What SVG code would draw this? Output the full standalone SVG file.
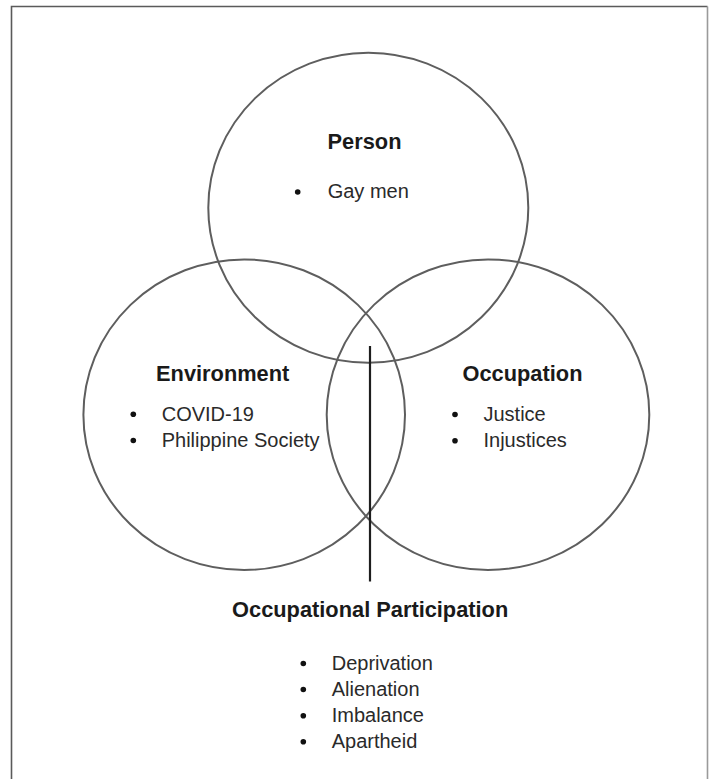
<svg xmlns="http://www.w3.org/2000/svg" width="709" height="779" viewBox="0 0 709 779">
  <style>
    .frame { fill: none; stroke: #5a5a5a; stroke-width: 1.6; }
    .frame-r { fill: none; stroke: #9a9a9a; stroke-width: 1.6; }
    .ring { fill: none; stroke: #5e5e5e; stroke-width: 2; }
    .divider { stroke: #1e1e1e; stroke-width: 2.2; }
    .title { font-family: "Liberation Sans", Arial, sans-serif; font-weight: bold; font-size: 21.8px; fill: #1a1a1a; text-anchor: middle; }
    .item { font-family: "Liberation Sans", Arial, sans-serif; font-size: 20px; fill: #2a2a2a; }
    .dot { fill: #111; }
  </style>

  <rect width="709" height="779" fill="#ffffff"/>

  <!-- outer frame, open at the bottom -->
  <polyline class="frame" points="11.5,779 11.5,6.5 707.5,6.5"/>
  <line class="frame-r" x1="707.5" y1="6.5" x2="707.5" y2="779"/>

  <g id="person">
    <ellipse class="ring" cx="368.3" cy="207.7" rx="160" ry="155"/>
    <text class="title" x="364.5" y="149.3">Person</text>
    <circle class="dot" cx="297.7" cy="192" r="2.8"/>
    <text class="item" x="327.7" y="198">Gay men</text>
  </g>

  <g id="environment">
    <ellipse class="ring" cx="244.2" cy="414.7" rx="160.8" ry="155.3"/>
    <text class="title" x="222.7" y="380.7">Environment</text>
    <circle class="dot" cx="133.3" cy="414.3" r="2.8"/>
    <text class="item" x="161.7" y="420.7">COVID-19</text>
    <circle class="dot" cx="133.3" cy="440.5" r="2.8"/>
    <text class="item" x="161.7" y="446.7">Philippine Society</text>
  </g>

  <g id="occupation">
    <ellipse class="ring" cx="488" cy="414.7" rx="161.3" ry="155.3"/>
    <text class="title" x="522.5" y="380.7">Occupation</text>
    <circle class="dot" cx="455" cy="414.5" r="2.8"/>
    <text class="item" x="483.5" y="420.7">Justice</text>
    <circle class="dot" cx="455" cy="440.7" r="2.8"/>
    <text class="item" x="483.5" y="446.7">Injustices</text>
  </g>

  <g id="connectors">
    <line class="divider" x1="370" y1="346" x2="370" y2="581.5"/>
  </g>

  <g id="occupational-participation">
    <text class="title" x="370.2" y="616.7">Occupational Participation</text>
    <circle class="dot" cx="303.3" cy="663.5" r="2.8"/>
    <text class="item" x="331.7" y="670">Deprivation</text>
    <circle class="dot" cx="303.3" cy="689.5" r="2.8"/>
    <text class="item" x="331.7" y="696">Alienation</text>
    <circle class="dot" cx="303.3" cy="715.7" r="2.8"/>
    <text class="item" x="331.7" y="722.2">Imbalance</text>
    <circle class="dot" cx="303.3" cy="741.8" r="2.8"/>
    <text class="item" x="331.7" y="748.3">Apartheid</text>
  </g>
</svg>
